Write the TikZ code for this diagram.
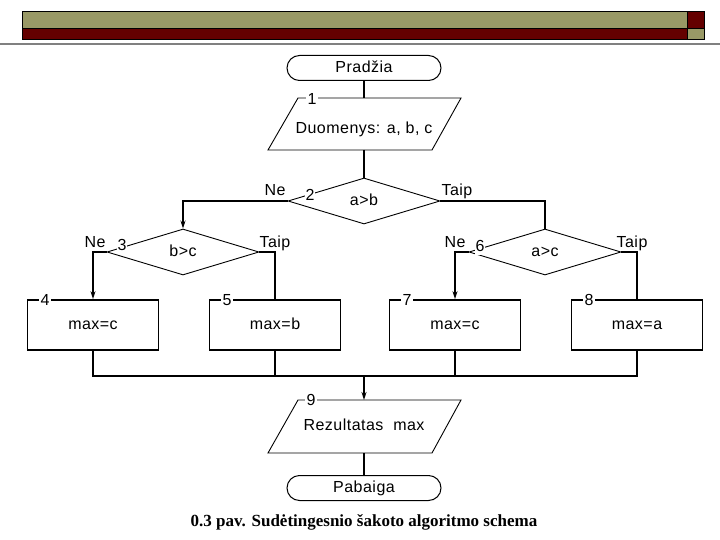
\documentclass[tikz,border=0pt]{standalone}
\usepackage{fontspec}
\setmainfont{Liberation Serif}
\newfontfamily\flowfont[LetterSpace=3]{Liberation Sans}
\usetikzlibrary{shapes.geometric,arrows.meta}
\definecolor{olivebar}{RGB}{153,153,102}
\definecolor{darkredbar}{RGB}{100,0,0}
\begin{document}
\begin{tikzpicture}[x=1pt,y=-1pt,
  every node/.style={font=\flowfont\fontsize{16}{19}\selectfont,text height=11.5pt,text depth=3pt},
  conn/.style={line width=1.6pt},
  arr/.style={conn,-{Stealth[length=8pt,width=5pt]}},
  term/.style={draw,line width=1pt,rounded corners=12.5pt,minimum width=154pt,minimum height=25pt,inner sep=0pt},
  iobox/.style={draw,line width=0.9pt},
  dec/.style={draw,diamond,line width=0.9pt,minimum width=152pt,minimum height=46pt,inner sep=0pt},
  proc/.style={draw,line width=1.8pt,minimum width=131pt,minimum height=50pt,inner sep=0pt},
  numlab/.style={fill=white,inner sep=2pt},
  branch/.style={inner sep=0pt,anchor=south}
]
\useasboundingbox (0,0) rectangle (720,540);
% header
\draw[fill=olivebar,line width=1pt] (22,12) rectangle (687,29);
\draw[fill=darkredbar,line width=1pt] (22,29) rectangle (687,40);
\draw[fill=darkredbar,line width=1pt] (687,12) rectangle (704,29);
\draw[fill=olivebar,line width=1pt] (687,29) rectangle (704,40);
\draw[gray,line width=1.5pt] (0,44) -- (720,44);

% start
\node[term] (start) at (364,68) {Pradžia};
% input
\draw[iobox] (298,98) -- (461,98) -- (432,150) -- (268,150) -- cycle;
\coordinate (p1top) at (364,98);
\coordinate (p1bot) at (364,150);
\node[numlab] (n1) at (312,100) {1};
\node (t1) at (364,129) {Duomenys: a, b, c};

% decisions
\node[dec] (d2) at (364,201) {a>b};
\node[numlab,inner sep=1pt] (n2) at (310,196) {2};
\node[dec] (d3) at (183,252) {b>c};
\node[numlab,inner sep=1pt] (n3) at (122,246) {3};
\node[dec] (d6) at (545,252) {a>c};
\node[numlab,inner sep=1pt] (n6) at (480,247) {6};

\node[branch] (ne2) at (275,199) {Ne};
\node[branch] (ta2) at (457,199) {Taip};
\node[branch] (ne3) at (95,251) {Ne};
\node[branch] (ta3) at (275,251) {Taip};
\node[branch] (ne6) at (455,251) {Ne};
\node[branch] (ta6) at (632,251) {Taip};

% process boxes
\node[proc] (b4) at (93,325) {max=c};
\node[proc] (b5) at (275,325) {max=b};
\node[proc] (b7) at (455,325) {max=c};
\node[proc] (b8) at (637,325) {max=a};
\node[numlab] (n4) at (45,301) {4};
\node[numlab] (n5) at (227,301) {5};
\node[numlab] (n7) at (407,301) {7};
\node[numlab] (n8) at (589,301) {8};

% output
\draw[iobox] (298,400) -- (461,400) -- (432,453) -- (268,453) -- cycle;
\coordinate (p9top) at (364,400);
\coordinate (p9bot) at (364,453);
\node[numlab] (n9) at (311,401) {9};
\node (t9) at (364,426) {Rezultatas\ \ max};

% end
\node[term] (end) at (364,488) {Pabaiga};

% caption
\node[font=\rmfamily\bfseries\fontsize{17}{20}\selectfont] (cap) at (364,522) {0.3 pav. Sudėtingesnio šakoto algoritmo schema};

% connectors
\draw[conn] (start.south) -- (p1top);
\draw[conn] (p1bot) -- (d2.north);
\draw[arr] (d2.west) -| (d3.north);
\draw[conn] (d2.east) -| (d6.north);
\draw[arr] (d3.west) -| (b4.north);
\draw[conn] (d3.east) -| (b5.north);
\draw[arr] (d6.west) -| (b7.north);
\draw[conn] (d6.east) -| (b8.north);
\coordinate (m) at (364,376);
\draw[conn] (b4.south) |- (b8.south |- m) -- (b8.south);
\draw[conn] (b5.south) -- (b5.south |- m);
\draw[conn] (b7.south) -- (b7.south |- m);
\draw[arr] (m) -- (p9top);
\draw[conn] (p9bot) -- (end.north);
\end{tikzpicture}
\end{document}
